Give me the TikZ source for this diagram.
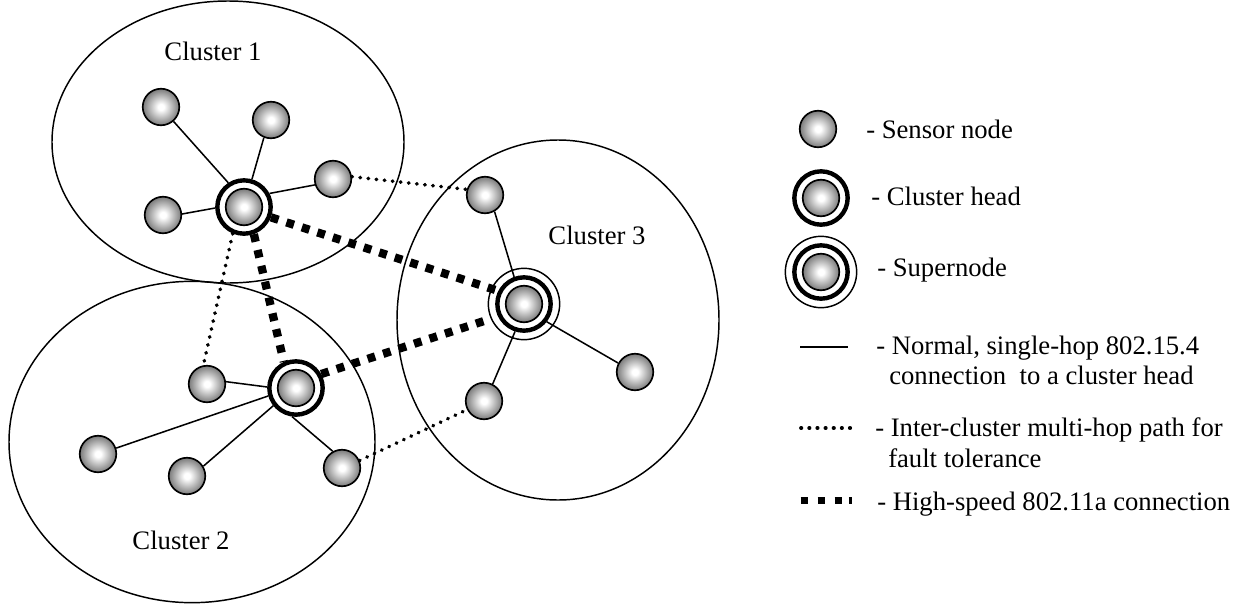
\documentclass[tikz,border=0pt]{standalone}
\usepackage{fontspec}
\setmainfont{Liberation Serif}
\usetikzlibrary{shapes.geometric}
\pgfdeclareradialshading{sensorglow}{\pgfpoint{0bp}{0bp}}{color(0bp)=(white); color(4bp)=(white); color(25bp)=(black!52); color(50bp)=(black!52)}
\tikzset{
  x=0.75pt, y=-0.75pt,
  sensor/.style={circle, draw=black, line width=1.25pt, minimum size=27.4pt, inner sep=0pt, shading=sensorglow},
  headring/.style={circle, draw=black, line width=3.3pt, fill=white, minimum size=40pt, inner sep=0pt},
  superring/.style={circle, draw=black, line width=1.1pt, fill=white, minimum size=53.5pt, inner sep=0pt},
  clusterzone/.style={draw=black, line width=1.1pt, ellipse, inner sep=0pt},
  plainlink/.style={draw=black, line width=1.15pt},
  dotlink/.style={draw=black, line width=2.8pt, line cap=round, dash pattern=on 0.3pt off 5.8pt},
  fastlink/.style={draw=black, line width=6.2pt, dash pattern=on 5.9pt off 6.3pt},
  fastkey/.style={draw=black, line width=5.8pt, dash pattern=on 5.3pt off 7.45pt on 5.3pt off 7.45pt on 5.3pt off 5.4pt on 2pt off 20pt},
  label/.style={anchor=base, font=\fontsize{20pt}{24pt}\selectfont, inner sep=0pt},
  legendtext/.style={anchor=base west, font=\fontsize{20pt}{24pt}\selectfont, inner sep=0pt},
}
\begin{document}
\begin{tikzpicture}
\useasboundingbox (0,0) rectangle (1238,603);
\fill[white] (0,0) rectangle (1238,603);
% cluster zones
\node[clusterzone, minimum width=264pt, minimum height=211.5pt] (z1) at (228,142) {};
\node[clusterzone, minimum width=274.5pt, minimum height=241pt] (z2) at (192,442) {};
\node[clusterzone, minimum width=241.5pt, minimum height=270pt] (z3) at (558,320) {};
% rings
\node[headring] (h1) at (244,207) {};
\node[headring] (h2) at (296,388) {};
\node[superring] (s3o) at (524,304) {};
\node[headring] (h3) at (524,304) {};
% sensors
\node[sensor] (h1c) at (244,207) {};
\node[sensor] (h2c) at (296,388) {};
\node[sensor] (h3c) at (524,304) {};
\node[sensor] (a1) at (161,107) {};
\node[sensor] (a2) at (271,120) {};
\node[sensor] (a3) at (333,179) {};
\node[sensor] (a4) at (163,215) {};
\node[sensor] (b1) at (207,384) {};
\node[sensor] (b2) at (98,454) {};
\node[sensor] (b3) at (187,476) {};
\node[sensor] (b4) at (342,468) {};
\node[sensor] (c1) at (485,195) {};
\node[sensor] (c2) at (635,372) {};
\node[sensor] (c3) at (484,401) {};
% connectors
\draw[plainlink] (h1.123) -- (a1.-49);
\draw[plainlink] (h1.74) -- (a2.248);
\draw[plainlink] (h1.28) -- (a3.198);
\draw[plainlink] (h1.182) -- (a4.3);
\draw[plainlink] (h2.178) -- (b1.7);
\draw[plainlink] (h2.196) -- (b2.18);
\draw[plainlink] (h2.218) -- (b3.31);
\draw[plainlink] (h2.262) -- (b4.119);
\draw[plainlink] (h3.110) -- (c1.-60);
\draw[plainlink] (h3.252) -- (c3.63);
\draw[plainlink] (h3.-38) -- (c2.152);
\draw[dotlink] (a3.7) -- (c1.163);
\draw[dotlink] (h1.247) -- (b1.101);
\draw[dotlink] (b4.23) -- (c3.207);
\draw[fastlink] (h1.290) -- (h2.115);
\draw[fastlink] (h1.-21) -- (h3.153);
\draw[fastlink] (h2.29) -- (s3o.204);
% cluster labels
\node[label] (t1) at (213,60.5) {Cluster 1};
\node[label] (t2) at (181,549.5) {Cluster 2};
\node[label] (t3) at (597,244.5) {Cluster 3};
% legend symbols
\node[sensor] (ls) at (818,129) {};
\node[headring] (lh) at (821,198) {};
\node[sensor] (lhc) at (821,198) {};
\node[superring] (lso) at (821,272) {};
\node[headring] (lsm) at (821,272) {};
\node[sensor] (lsc) at (821,272) {};
\coordinate (n1) at (800,347); \coordinate (n2) at (848,347);
\coordinate (d1) at (801,428); \coordinate (d2) at (852,428);
\coordinate (f1) at (800.6,500.5); \coordinate (f2) at (852,500.5);
\draw[plainlink] (n1) -- (n2);
\draw[dotlink] (d1) -- (d2);
\draw[fastkey] (f1) -- (f2);
% legend text
\node[legendtext] (l1) at (866,138.5) {- Sensor node};
\node[legendtext] (l2) at (871,205.5) {- Cluster head};
\node[legendtext] (l3) at (877,276.5) {- Supernode};
\node[legendtext] (l4) at (876,354.5) {- Normal, single-hop 802.15.4};
\node[legendtext] (l5) at (889,384.5) {connection\ \ to a cluster head};
\node[legendtext] (l6) at (875,436.5) {- Inter-cluster multi-hop path for};
\node[legendtext] (l7) at (888,467.5) {fault tolerance};
\node[legendtext] (l8) at (877,510.5) {- High-speed 802.11a connection};
\end{tikzpicture}
\end{document}
